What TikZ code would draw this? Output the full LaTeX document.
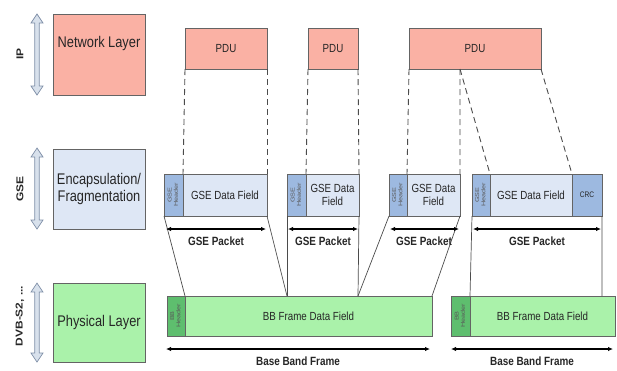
\documentclass[tikz,border=0pt]{standalone}
\usepackage{fontspec}
\setmainfont{Liberation Sans}[FakeStretch=0.83]
\newfontfamily\uprightsans{Liberation Sans}
\usetikzlibrary{arrows.meta,calc}

\definecolor{ipRed}{RGB}{250,177,164}
\definecolor{gseLight}{RGB}{222,231,245}
\definecolor{gseDark}{RGB}{157,185,224}
\definecolor{phyGreen}{RGB}{170,242,170}
\definecolor{bbDark}{RGB}{94,190,110}
\definecolor{edgeGray}{RGB}{100,100,100}
\definecolor{lineGray}{RGB}{75,75,75}
\definecolor{arrowFill}{RGB}{216,225,236}
\definecolor{arrowEdge}{RGB}{128,144,168}

\tikzset{
  blk/.style={draw=edgeGray, line width=0.7bp, anchor=north west,
    inner sep=0pt, outer sep=0pt, align=center, text=black!85},
  layerbox/.style={blk, font=\fontsize{15.5}{18}\selectfont},
  fieldtxt/.style={font=\fontsize{11.8}{13.5}\selectfont},
  hdrtxt/.style={font=\uprightsans\fontsize{5.6}{6.2}\selectfont, rotate=90, text=black!65, align=center},
  sizelbl/.style={font=\bfseries\fontsize{12}{14}\selectfont, text=black!85},
  sidelbl/.style={font=\uprightsans\bfseries\fontsize{10}{12}\selectfont, rotate=90, text=black!85},
  mapline/.style={draw=lineGray, line width=0.9bp, dash pattern=on 6bp off 4bp},
  joinline/.style={draw=lineGray, line width=0.7bp},
  span/.style={draw=black, line width=1.2bp, {Latex[length=5bp,width=4.5bp]}-{Latex[length=5bp,width=4.5bp]}},
  arrowshape/.style={fill=arrowFill, draw=arrowEdge, line width=0.7bp, line join=miter},
}

% hollow vertical double arrow: x, top y, bottom y
\newcommand\layerarrow[3]{%
  \filldraw[arrowshape] (#1,#2) -- (#1+6,#2+9) -- (#1+2.3,#2+9) -- (#1+2.3,#3-9)
    -- (#1+6,#3-9) -- (#1,#3) -- (#1-6,#3-9) -- (#1-2.3,#3-9) -- (#1-2.3,#2+9)
    -- (#1-6,#2+9) -- cycle;}

% two-line header caption, drawn lengthwise along a narrow field
\newcommand\hdrcap[1]{\scalebox{1.3}[1]{\begin{tabular}{@{}c@{}}#1\\Header\end{tabular}}}

\begin{document}
\begin{tikzpicture}[x=1bp,y=-1bp]
\useasboundingbox (0,0) rectangle (617,370);

% ---- protocol layers on the left
\layerarrow{37}{14}{95}
\layerarrow{37}{148}{229}
\layerarrow{37}{283}{362}
\node[sidelbl] (iplbl) at (20,54) {\scalebox{1.2}[1]{IP}};
\node[sidelbl] (gselbl) at (20,189) {\scalebox{1.2}[1]{GSE}};
\node[sidelbl] (dvblbl) at (20,316) {\scalebox{1.2}[1]{DVB-S2, ...}};

\node[layerbox, fill=ipRed, minimum width=92bp, minimum height=81bp] (net) at (53,14) {};
\node[font=\fontsize{15.5}{18}\selectfont, text=black!85] (netlbl) at (99,44) {Network Layer};
\node[layerbox, fill=gseLight, minimum width=92bp, minimum height=80bp] (enc) at (53,149) {Encapsulation/\\Fragmentation};
\node[layerbox, fill=phyGreen, minimum width=92bp, minimum height=79bp] (phy) at (53,283) {Physical Layer};

% ---- PDUs
\node[blk, fieldtxt, fill=ipRed, minimum width=82bp, minimum height=41bp] (pdu1) at (185,28) {PDU};
\node[blk, fieldtxt, fill=ipRed, minimum width=50bp, minimum height=41bp] (pdu2) at (308,28) {PDU};
\node[blk, fieldtxt, fill=ipRed, minimum width=132bp, minimum height=41bp] (pdu3) at (409,28) {PDU};

% ---- GSE packets
\node[blk, fill=gseDark, minimum width=19bp, minimum height=42bp] (gsh1) at (164,174) {};
\node[hdrtxt] (gsh1t) at (gsh1.center) {\hdrcap{GSE}};
\node[blk, fieldtxt, fill=gseLight, minimum width=84bp, minimum height=42bp] (gsd1) at (183,174) {GSE Data Field};

\node[blk, fill=gseDark, minimum width=19bp, minimum height=42bp] (gsh2) at (287,174) {};
\node[hdrtxt] (gsh2t) at (gsh2.center) {\hdrcap{GSE}};
\node[blk, fieldtxt, fill=gseLight, minimum width=53bp, minimum height=42bp] (gsd2) at (306,174) {GSE Data\\Field};

\node[blk, fill=gseDark, minimum width=18bp, minimum height=42bp] (gsh3) at (389,174) {};
\node[hdrtxt] (gsh3t) at (gsh3.center) {\hdrcap{GSE}};
\node[blk, fieldtxt, fill=gseLight, minimum width=53bp, minimum height=42bp] (gsd3) at (407,174) {GSE Data\\Field};

\node[blk, fill=gseDark, minimum width=18bp, minimum height=42bp] (gsh4) at (472,174) {};
\node[hdrtxt] (gsh4t) at (gsh4.center) {\hdrcap{GSE}};
\node[blk, fieldtxt, fill=gseLight, minimum width=82bp, minimum height=42bp] (gsd4) at (490,174) {GSE Data Field};
\node[blk, fill=gseDark, minimum width=30bp, minimum height=42bp, font=\fontsize{8}{9}\selectfont] (crc) at (572,174) {CRC};

% ---- base band frames
\node[blk, fill=bbDark, minimum width=18bp, minimum height=40bp] (bbh1) at (167,296) {};
\node[hdrtxt] (bbh1t) at (bbh1.center) {\hdrcap{BB}};
\node[blk, fieldtxt, fill=phyGreen, minimum width=247bp, minimum height=40bp] (bbd1) at (185,296) {BB Frame Data Field};

\node[blk, fill=bbDark, minimum width=19bp, minimum height=40bp] (bbh2) at (451,296) {};
\node[hdrtxt] (bbh2t) at (bbh2.center) {\hdrcap{BB}};
\node[blk, fieldtxt, fill=phyGreen, minimum width=145bp, minimum height=40bp] (bbd2) at (470,296) {BB Frame Data Field};

% ---- PDU to GSE mapping
\coordinate (cut) at ($(pdu3.south west)+(51,0)$);
\draw[mapline] (pdu1.south west) -- (gsh1.north east);
\draw[mapline] (pdu1.south east) -- (gsd1.north east);
\draw[mapline] (pdu2.south west) -- (gsh2.north east);
\draw[mapline] (pdu2.south east) -- (gsd2.north east);
\draw[mapline] (pdu3.south west) -- (gsh3.north east);
\draw[mapline] (cut) -- (gsd3.north east);
\draw[mapline] (cut) -- (gsh4.north east);
\draw[mapline] (pdu3.south east) -- (crc.north west);

% ---- GSE to base band mapping
\coordinate (j1) at (287,296);
\coordinate (j2) at (358,296);
\coordinate (j3) at (602,296);
\draw[joinline] (gsh1.south west) -- (bbh1.north east);
\draw[joinline] (gsd1.south east) -- (j1);
\draw[joinline] (gsh2.south west) -- (j1);
\draw[joinline] (gsd2.south east) -- (j2);
\draw[joinline] (gsh3.south west) -- (j2);
\draw[joinline] (gsd3.south east) -- (bbd1.north east);
\draw[joinline] (gsh4.south west) -- (bbh2.north east);
\draw[joinline] (crc.south east) -- (j3);

% ---- size spans
\coordinate (p1a) at (166,229); \coordinate (p1b) at (266,229);
\coordinate (p2a) at (288,229); \coordinate (p2b) at (358,229);
\coordinate (p3a) at (390,229); \coordinate (p3b) at (459,229);
\coordinate (p4a) at (473,229); \coordinate (p4b) at (601,229);
\draw[span] (p1a) -- (p1b);
\draw[span] (p2a) -- (p2b);
\draw[span] (p3a) -- (p3b);
\draw[span] (p4a) -- (p4b);
\node[sizelbl] (pk1) at (216,241) {GSE Packet};
\node[sizelbl] (pk2) at (323,241) {GSE Packet};
\node[sizelbl] (pk3) at (424,241) {GSE Packet};
\node[sizelbl] (pk4) at (537,241) {GSE Packet};

\coordinate (f1a) at (166,349); \coordinate (f1b) at (430,349);
\coordinate (f2a) at (451,349); \coordinate (f2b) at (613,349);
\draw[span] (f1a) -- (f1b);
\draw[span] (f2a) -- (f2b);
\node[sizelbl] (fr1) at (298,361) {Base Band Frame};
\node[sizelbl] (fr2) at (532,361) {Base Band Frame};
\end{tikzpicture}
\end{document}
